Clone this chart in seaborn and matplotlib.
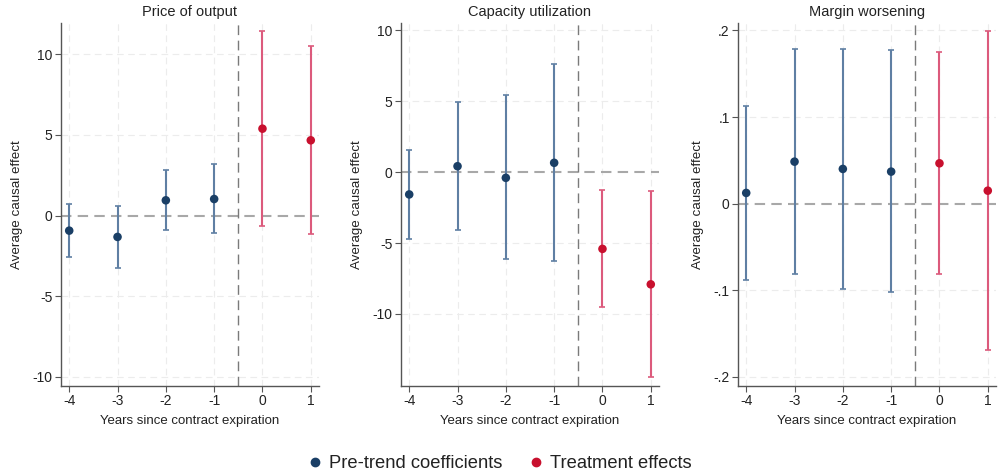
import numpy as np
import pandas as pd
import matplotlib
matplotlib.use("Agg")
import matplotlib.pyplot as plt
from matplotlib.lines import Line2D
import seaborn as sns

# Event-time coefficients with 95% confidence intervals
years = [-4, -3, -2, -1, 0, 1]
group = ["pre", "pre", "pre", "pre", "treat", "treat"]

price_est = [-0.93, -1.32, 0.95, 1.03, 5.39, 4.67]
price_lo = [-2.56, -3.24, -0.89, -1.09, -0.64, -1.13]
price_hi = [0.70, 0.62, 2.81, 3.22, 11.44, 10.49]

capacity_est = [-1.57, 0.42, -0.40, 0.66, -5.41, -7.91]
capacity_lo = [-4.71, -4.10, -6.14, -6.26, -9.53, -14.43]
capacity_hi = [1.55, 4.94, 5.42, 7.61, -1.29, -1.36]

margin_est = [0.0124, 0.0485, 0.0401, 0.0370, 0.0466, 0.0150]
margin_lo = [-0.0885, -0.0808, -0.0981, -0.1023, -0.0808, -0.169]
margin_hi = [0.1132, 0.1786, 0.1786, 0.1771, 0.1748, 0.199]

titles = ["Price of output", "Capacity utilization", "Margin worsening"]
yticks = [[-10, -5, 0, 5, 10], [-10, -5, 0, 5, 10], [-0.2, -0.1, 0, 0.1, 0.2]]
yticklabels = [["-10", "-5", "0", "5", "10"], ["-10", "-5", "0", "5", "10"],
               ["-.2", "-.1", "0", ".1", ".2"]]
ylims = [(-10.56, 11.94), (-15.08, 10.52), (-0.2104, 0.2085)]

sns.set_theme(style="white")
plt.rcParams["font.family"] = ["Liberation Sans", "DejaVu Sans"]

point_colors = {"pre": "#1a3f66", "treat": "#c8102e"}
bar_colors = {"pre": "#5f7fa3", "treat": "#dc5a7c"}

fig = plt.figure(figsize=(9.98, 4.76), dpi=100)
lefts = [61, 401, 738]
width_px, top_px, bottom_px = 258, 23, 386
W, H = 998, 476

series = [(price_est, price_lo, price_hi),
          (capacity_est, capacity_lo, capacity_hi),
          (margin_est, margin_lo, margin_hi)]

for i, (est, lo, hi) in enumerate(series):
    ax = fig.add_axes([lefts[i] / W, 1 - bottom_px / H,
                       width_px / W, (bottom_px - top_px) / H])
    df = pd.DataFrame({"year": years, "est": est, "lo": lo, "hi": hi, "group": group})

    ax.set_xlim(-4.17, 1.17)
    ax.set_ylim(*ylims[i])

    # light background grid
    for t in years:
        ax.axvline(t, color="#ececec", lw=0.8, ls=(0, (6, 4)), zorder=0)
    for t in yticks[i]:
        if t != 0:
            ax.axhline(t, color="#ececec", lw=0.8, ls=(0, (6, 4)), zorder=0)

    ax.axhline(0, color="#a8a8a8", lw=1.5, ls=(0, (5, 3)), zorder=1)
    ax.axvline(-0.5, color="#7a7a7a", lw=1.0, ls=(0, (7, 4)), zorder=1)

    for g in ["pre", "treat"]:
        sub = df[df["group"] == g]
        ax.errorbar(sub["year"], sub["est"],
                    yerr=[sub["est"] - sub["lo"], sub["hi"] - sub["est"]],
                    fmt="none", ecolor=bar_colors[g], elinewidth=1.5,
                    capsize=2.5, capthick=1.2, zorder=2)

    sns.scatterplot(data=df, x="year", y="est", hue="group", palette=point_colors,
                    s=38, edgecolor="none", legend=False, ax=ax, zorder=3)

    ax.set_xticks(years)
    ax.set_xticklabels([str(y) for y in years])
    ax.set_yticks(yticks[i])
    ax.set_yticklabels(yticklabels[i])
    ax.tick_params(axis="both", which="both", direction="out", length=4, width=0.8,
                   color="#555555", labelsize=10, labelcolor="#222222", pad=2,
                   bottom=True, left=True)
    for side in ["top", "right"]:
        ax.spines[side].set_visible(False)
    for side in ["left", "bottom"]:
        ax.spines[side].set_color("#555555")
        ax.spines[side].set_linewidth(1.0)

    ax.set_title(titles[i], fontsize=10.5, color="#222222", pad=5)
    ax.set_xlabel("Years since contract expiration", fontsize=9.5, color="#222222", labelpad=5)
    ax.set_ylabel("Average causal effect", fontsize=9.6, color="#222222", labelpad=7)

handles = [Line2D([], [], marker="o", ls="none", color=point_colors["pre"], markersize=6),
           Line2D([], [], marker="o", ls="none", color=point_colors["treat"], markersize=6)]
fig.legend(handles, ["Pre-trend coefficients", "Treatment effects"],
           loc="center", bbox_to_anchor=(0.5, 1 - 464 / H), ncol=2, frameon=False,
           fontsize=13.2, handletextpad=0.25, columnspacing=1.35, handlelength=1.0,
           labelcolor="#222222")

fig.savefig("out.png", dpi=100)
